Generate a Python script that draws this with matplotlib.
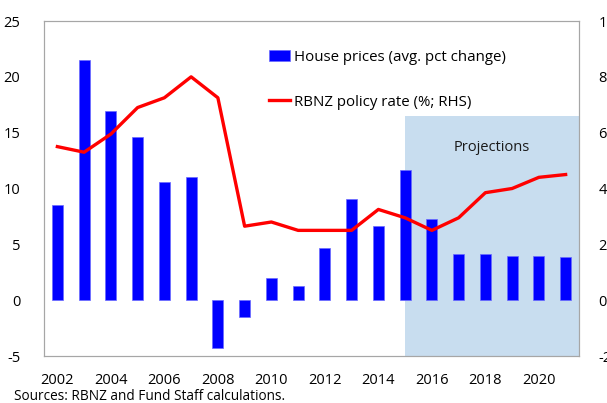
import numpy as np
import matplotlib
matplotlib.use("Agg")
import matplotlib.pyplot as plt

years = list(range(2002, 2022))
house_prices = [8.5, 21.5, 16.9, 14.6, 10.6, 11.0, -4.3, -1.5, 2.0, 1.3, 4.7, 9.1, 6.6,
                11.7, 7.3, 4.1, 4.1, 4.0, 4.0, 3.9]
policy_rate = [5.5, 5.3, 5.95, 6.9, 7.25, 8.0, 7.25, 2.65, 2.8, 2.5, 2.5, 2.5, 3.25,
               2.95, 2.5, 2.95, 3.85, 4.0, 4.4, 4.5]
tick_years = list(range(2002, 2021, 2))
proj_start = 2015

plt.rcParams['font.family'] = ['Open Sans', 'DejaVu Sans']
plt.rcParams['axes.unicode_minus'] = False

fig = plt.figure(figsize=(6.07, 4.03), dpi=100)
ax = fig.add_axes([44 / 607, 1 - 356 / 403, 535 / 607, 335 / 403])
ax2 = ax.twinx()

x = np.arange(len(years))
p0 = years.index(proj_start)

# projection shading (top at ~16.5 on left scale)
ax.fill_between([p0, len(years) - 0.5], -5, 16.5, color='#c8ddef', zorder=0, linewidth=0)
ax.text((p0 + len(years) - 0.5) / 2, 13.7, 'Projections', ha='center', va='center',
        fontsize=10.5, color='#1a1a1a')

ax.bar(x, house_prices, width=0.42, color='#0000ff', edgecolor='#6a6aff', linewidth=0.5,
       zorder=2, label='House prices (avg. pct change)')
ax2.plot(x, policy_rate, color='#ff0000', linewidth=2.4, zorder=3,
         label='RBNZ policy rate (%; RHS)')

ax.set_xlim(-0.5, len(years) - 0.5)
ax.set_ylim(-5, 25)
ax2.set_ylim(-2, 10)
ax.set_yticks(range(-5, 26, 5))
ax2.set_yticks(range(-2, 11, 2))
ax.set_xticks([years.index(y) for y in tick_years])
ax.set_xticklabels([str(y) for y in tick_years])

for a in (ax, ax2):
    a.tick_params(length=0, labelsize=10.5, colors='#000000')
    for s in a.spines.values():
        s.set_color('#a6a6a6')
        s.set_linewidth(0.8)
ax.tick_params(axis='y', pad=17)
ax.tick_params(axis='x', pad=12)
ax2.tick_params(axis='y', pad=14)

h1, l1 = ax.get_legend_handles_labels()
h2, l2 = ax2.get_legend_handles_labels()
leg = ax2.legend(h1 + h2, l1 + l2, loc='upper left', bbox_to_anchor=(0.395, 0.955),
                 frameon=False, fontsize=10.8, handlelength=1.4, handletextpad=0.3,
                 labelspacing=2.0)

fig.text(14 / 607, 1 - 396 / 403, 'Sources: RBNZ and Fund Staff calculations.',
         fontsize=9.8, va='center', ha='left')

fig.savefig('out.png', dpi=100)
